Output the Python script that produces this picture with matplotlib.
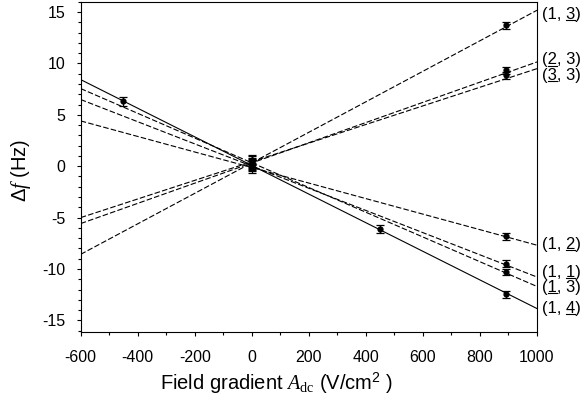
import numpy as np
import matplotlib
matplotlib.use('Agg')
import matplotlib.pyplot as plt
from matplotlib.ticker import MultipleLocator
from matplotlib.lines import Line2D
from matplotlib.transforms import IdentityTransform

plt.rcParams['font.family'] = ['Liberation Sans', 'DejaVu Sans']
plt.rcParams['axes.unicode_minus'] = False
plt.rcParams['mathtext.fontset'] = 'custom'
plt.rcParams['mathtext.rm'] = 'Liberation Serif'
plt.rcParams['mathtext.it'] = 'Liberation Serif:italic'
plt.rcParams['mathtext.sf'] = 'Liberation Sans'

# fitted lines: slope (Hz per V/cm^2) and intercept (Hz)
# label parts: (before, underlined char, after)
line_labels = [('(1, ', '3', ')'), ('(', '2', ', 3)'), ('(', '3', ', 3)'),
               ('(1, ', '2', ')'), ('(1, ', '1', ')'), ('(', '1', ', 3)'),
               ('(1, ', '4', ')')]
slopes = [0.014838, 0.009825, 0.009056, -0.007556, -0.01079, -0.01203, -0.013919]
intercepts = [0.33, 0.315, 0.434, -0.13, 0.01, 0.33, 0.07]
solid_line = [False, False, False, False, False, False, True]
label_y = [14.8, 10.35, 8.84, -7.6, -10.3, -11.8, -13.8]

# measured points
pts_x = [890, 890, 890, 890, 890, 890, 890, -450, 450, 0, 0, 0, 0, 0, 0, 0]
pts_y = [13.7, 9.33, 8.84, -6.82, -9.47, -10.29, -12.46, 6.3, -6.1,
         0.6, 0.45, 0.3, 0.2, 0.1, 0.0, -0.15]
pts_err = [0.33, 0.33, 0.33, 0.33, 0.33, 0.33, 0.33, 0.45, 0.42,
           0.5, 0.5, 0.5, 0.5, 0.5, 0.5, 0.5]

fig = plt.figure(figsize=(5.84, 4.09), dpi=100)
ax = fig.add_axes([0.1382, 0.189, 0.7813, 0.8068])

xx = np.array([-600, 1000])
for m, b, solid in zip(slopes, intercepts, solid_line):
    if solid:
        ax.plot(xx, m * xx + b, color='black', lw=0.8)
    else:
        ax.plot(xx, m * xx + b, color='black', lw=0.8, dashes=(5, 2))

ax.errorbar(pts_x, pts_y, yerr=pts_err, fmt='o', color='black', ms=3.5,
            elinewidth=0.9, capsize=3, capthick=0.9)

ax.set_xlim(-600, 1000)
ax.set_ylim(-16.1, 16)
ax.xaxis.set_major_locator(MultipleLocator(200))
ax.xaxis.set_minor_locator(MultipleLocator(100))
ax.yaxis.set_major_locator(MultipleLocator(5))
ax.yaxis.set_minor_locator(MultipleLocator(1))
ax.tick_params(which='both', direction='out', top=False, right=False,
               labelsize=11.5, width=0.8, pad=8)
ax.tick_params(axis='x', which='both', pad=10)
ax.tick_params(which='major', length=3)
ax.tick_params(which='minor', length=2)
for s in ax.spines.values():
    s.set_linewidth(0.8)

ax.set_xlabel(r'Field gradient $A_{\mathrm{dc}}$ (V/cm$^{\mathsf{2}}$ )', fontsize=14.5)
ax.set_ylabel(r'Δ$f$ (Hz)', fontsize=14.5)
ax.xaxis.set_label_coords(0.429, -0.12)
ax.yaxis.set_label_coords(-0.105, 0.49)

# right-hand labels with one underlined index
renderer = fig.canvas.get_renderer()
ident = IdentityTransform()


def text_width(s):
    t = fig.text(0, 0, s, transform=ident, fontsize=12)
    w = t.get_window_extent(renderer).width
    t.remove()
    return w


for (pre, ch, post), yv in zip(line_labels, label_y):
    x0, y0 = ax.transData.transform((1000, yv))
    x0 += 5
    t = fig.text(x0, y0, pre + ch + post, transform=ident, fontsize=12,
                 va='center', ha='left')
    bb = t.get_window_extent(renderer)
    u1 = x0 + text_width(pre + ch)
    u0 = u1 - text_width(ch)
    uy = bb.y0 + 1.5
    fig.add_artist(Line2D([u0, u1], [uy, uy], transform=ident,
                          color='black', lw=0.8))

fig.savefig('out.png', dpi=100)
